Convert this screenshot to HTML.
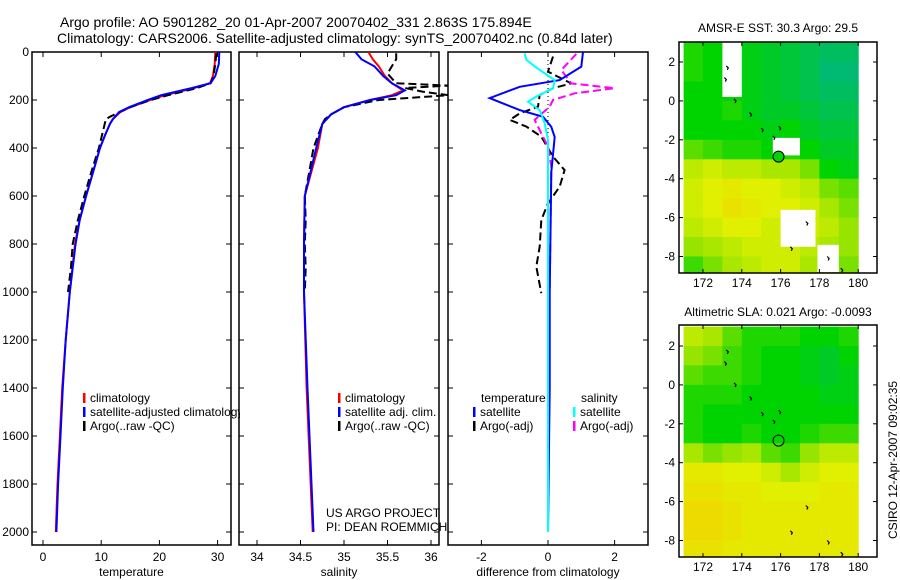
<!DOCTYPE html>
<html><head><meta charset="utf-8"><style>
body{margin:0;background:#fff}
svg{display:block;font-family:"Liberation Sans",sans-serif}
text{fill:#000}
</style></head><body>
<svg id="fig" width="900" height="580" viewBox="0 0 900 580">
<defs>
<clipPath id="c1"><rect x="32" y="52" width="208" height="494"/></clipPath>
<clipPath id="c2"><rect x="239" y="52" width="209" height="494"/></clipPath>
<clipPath id="c3"><rect x="448" y="52" width="200" height="494"/></clipPath>
<clipPath id="cm1"><rect x="679" y="42" width="198" height="231"/></clipPath>
<clipPath id="cm2"><rect x="679" y="325" width="198" height="232"/></clipPath>
</defs>
<text x="60" y="27" font-size="14">Argo profile: AO 5901282_20 01-Apr-2007 20070402_331 2.863S 175.894E</text>
<text x="57" y="43" font-size="14">Climatology: CARS2006. Satellite-adjusted climatology: synTS_20070402.nc (0.84d later)</text>
<text x="778" y="32" font-size="12" text-anchor="middle">AMSR-E SST: 30.3 Argo: 29.5</text>
<text x="778" y="316" font-size="12" text-anchor="middle">Altimetric SLA: 0.021 Argo: -0.0093</text>
<text transform="translate(897,460) rotate(-90)" font-size="12" text-anchor="middle">CSIRO 12-Apr-2007 09:02:35</text>
<g id="g"></g>
</svg>
<script>
// ---------- data ----------
const depthTicks=[0,200,400,600,800,1000,1200,1400,1600,1800,2000];
const tempTicks=[0,10,20,30];
const salTicks=[34,34.5,35,35.5,36];
const diffTicks=[-2,0,2];
const tClimDepth=[0,50,100,130,150,180,200,230,250,280,300,350,400,500,600,700,800,1000,1200,1400,1600,1800,2000];
const tClimVal=[29.6,29.5,29.2,28.7,26,21,18.4,15,13.3,12,11.5,10.6,9.8,8.6,7.4,6.3,5.5,4.6,3.9,3.3,2.9,2.5,2.2];
const tSatVal=[30.3,30.2,29.6,28.8,25.6,20.3,18,14.8,13.1,12,11.5,10.6,9.8,8.6,7.4,6.3,5.6,4.6,3.9,3.4,3.0,2.6,2.3];
const tArgoDepth=[5,50,100,130,150,180,200,230,250,270,280,300,350,400,500,600,700,800,900,1000];
const tArgoVal=[29.8,29.6,29.3,28.8,26.5,21.5,18.5,15,13.2,11.5,10.8,10.6,10.1,9.6,8.3,7.1,6.0,5.1,4.8,4.3];
const sClimDepth=[0,30,60,100,130,160,180,200,230,260,300,400,600,800,1000,1400,2000];
const sClimVal=[35.28,35.33,35.4,35.47,35.55,35.68,35.55,35.3,35.0,34.85,34.75,34.7,34.55,34.54,34.54,34.57,34.64];
const sSatVal=[35.13,35.2,35.35,35.45,35.55,35.7,35.6,35.3,35.0,34.85,34.75,34.68,34.55,34.54,34.54,34.58,34.65];
const sArgoDepth=[5,30,60,90,110,130,140,150,165,180,190,200,230,260,280,300,350,400,500,600,700,800,900,1000];
const sArgoVal=[35.6,35.6,35.55,35.5,35.55,35.6,36.2,35.7,35.9,36.2,35.8,35.4,35.0,34.85,34.78,34.75,34.7,34.65,34.6,34.55,34.56,34.55,34.56,34.55];
const dTSatDepth=[0,61,117,145,192,214,242,270,312,354,500,1000,1400,2000];
const dTSatVal=[1.05,1.0,0.35,-0.85,-1.75,-1.35,-0.85,-0.15,0.1,0.2,0.1,0.05,0.05,0];
const dSSatDepth=[6,33,75,117,151,186,207,242,297,367,1000,2000];
const dSSatVal=[-0.7,-0.65,-0.25,0.2,0.15,-0.35,-0.6,-0.25,-0.1,0,0,0];
const dTArgoDepth=[19,82,131,151,179,228,256,283,311,353,436,492,561,631,700,811,894,1005];
const dTArgoVal=[0.15,0,0.7,0.15,-0.25,-0.3,-0.85,-1.15,-0.65,-0.2,0.15,0.5,0.35,0,-0.2,-0.25,-0.35,-0.2];
const dSArgoDepth=[8,75,131,151,172,200,228,283,339,394,478,1000];
const dSArgoVal=[0.85,0.4,0.7,2.0,0.8,0.15,0.05,-0.4,-0.2,0,0.1,0.05];
const lonTicks=[172,174,176,178,180];
const latTicks=[2,0,-2,-4,-6,-8];
const gridLons=[171.5,172.5,173.5,174.5,175.5,176.5,177.5,178.5,179.5];
const gridLats=[2.5,1.5,0.5,-0.5,-1.5,-2.5,-3.5,-4.5,-5.5,-6.5,-7.5,-8.5];
const sstField=[
[.35,.3,.3,.25,.2,.15,.1,.05,.05],
[.35,.3,.3,.25,.2,.15,.1,.0,.0],
[.3,.3,.3,.25,.2,.15,.1,.05,.05],
[.3,.3,.35,.25,.2,.2,.15,.1,.1],
[.3,.3,.3,.3,.25,.3,.2,.15,.15],
[.45,.4,.35,.35,.3,.35,.3,.2,.2],
[.65,.7,.65,.65,.6,.6,.5,.3,.25],
[.7,.75,.8,.75,.75,.7,.65,.5,.45],
[.7,.75,.85,.8,.75,.75,.7,.6,.5],
[.65,.7,.75,.75,.7,.75,.7,.65,.55],
[.55,.6,.65,.7,.7,.7,.65,.6,.55],
[.4,.5,.6,.65,.7,.7,.6,.55,.5]];
const slaField=[
[.65,.6,.45,.35,.35,.35,.3,.3,.35],
[.55,.5,.4,.35,.3,.3,.25,.2,.3],
[.45,.4,.4,.35,.3,.3,.25,.2,.25],
[.35,.35,.35,.3,.3,.3,.3,.25,.25],
[.35,.3,.3,.3,.3,.3,.3,.3,.3],
[.35,.3,.3,.35,.3,.3,.35,.4,.4],
[.6,.5,.55,.6,.45,.4,.55,.65,.65],
[.8,.8,.75,.75,.7,.6,.7,.75,.75],
[.85,.85,.8,.8,.75,.75,.75,.8,.8],
[.9,.9,.85,.8,.8,.8,.8,.8,.8],
[.9,.9,.85,.8,.8,.8,.8,.8,.8],
[.85,.85,.8,.8,.8,.8,.8,.8,.8]];
const sstGapLon0=[173,175.6,176,177.9,180.1];
const sstGapLon1=[174,177,177.8,179,181];
const sstGapLat0=[3,-1.9,-5.6,-7.4,3];
const sstGapLat1=[0.2,-2.8,-7.5,-8.8,-8.8];
const argoLon=175.894, argoLat=-2.863;

// ---------- helpers ----------
const NS='http://www.w3.org/2000/svg';
const G=document.getElementById('g');
function mk(tag,at,parent){const e=document.createElementNS(NS,tag);for(const k in at)e.setAttribute(k,at[k]);(parent||G).appendChild(e);return e;}
const yD=d=>52+d*0.24;
const xT=v=>43+v*5.82;
const xS=v=>257+(v-34)*87;
const xDf=v=>548+v*33.3;

function panel(x0,x1,name,xTicksArr,xf,xlabels,fmt){
  const r=mk('rect',{x:x0,y:52,width:x1-x0,height:493,fill:'none',stroke:'#000','stroke-width':1.5});
  
  
  depthTicks.forEach(d=>{
    mk('line',{x1:x0,x2:x0+5,y1:yD(d),y2:yD(d),stroke:'#000'});
    mk('line',{x1:x1-5,x2:x1,y1:yD(d),y2:yD(d),stroke:'#000'});
  });
  xTicksArr.forEach(v=>{
    const x=xf(v);
    mk('line',{x1:x,x2:x,y1:52,y2:57,stroke:'#000'});
    mk('line',{x1:x,x2:x,y1:540,y2:545,stroke:'#000'});
    const t=mk('text',{x:x,y:561,'font-size':12,'text-anchor':'middle'});
    t.textContent=fmt(v);
    
    
  });
  const l=mk('text',{x:(x0+x1)/2,y:576,'font-size':12,'text-anchor':'middle'});
  l.textContent=xlabels;
  
  
}
function line(ds,vs,xf,color,dash,clip,name,w){
  const pts=ds.map((d,i)=>xf(vs[i]).toFixed(1)+','+yD(d).toFixed(1)).join(' ');
  const p=mk('polyline',{points:pts,fill:'none',stroke:color,'stroke-width':w||2,'clip-path':'url(#'+clip+')'});
  if(dash)p.setAttribute('stroke-dasharray',dash);
  
  
}
function legend(x,y,color,label,name,clip){
  const b=mk('rect',{x:x,y:y-9,width:2.5,height:10,fill:color});
  
  
  const t=mk('text',{x:x+7,y:y,'font-size':12});
  if(clip)t.setAttribute('clip-path','url(#'+clip+')');
  t.textContent=label;
  
  
}
function txt(x,y,s,name,opts){const t=mk('text',Object.assign({x:x,y:y,'font-size':12},opts||{}));t.textContent=s;return t;}

depthTicks.forEach(d=>{
  const t=mk('text',{x:29,y:yD(d)+4,'font-size':12,'text-anchor':'end'});
  t.textContent=d;
  
  
});

panel(32,231,'temperature-panel',tempTicks,xT,'temperature',v=>v);
line(tClimDepth,tClimVal,xT,'#f00',null,'c1','temp-climatology-line');
line(tArgoDepth,tArgoVal,xT,'#000','8,4','c1','temp-argo-line');
line(tClimDepth,tSatVal,xT,'#00f',null,'c1','temp-satellite-line');
legend(83,402,'#f00','climatology','legend-climatology');
legend(83,416,'#00f','satellite-adjusted climatology','legend-satellite-adjusted','c1');
legend(83,430,'#000','Argo(..raw -QC)','legend-argo');

panel(239,439,'salinity-panel',salTicks,xS,'salinity',v=>v);
line(sClimDepth,sClimVal,xS,'#f00',null,'c2','sal-climatology-line');
line(sArgoDepth,sArgoVal,xS,'#000','8,4','c2','sal-argo-line');
line(sClimDepth,sSatVal,xS,'#00f',null,'c2','sal-satellite-line');
legend(338,402,'#f00','climatology','legend-sal-climatology');
legend(338,416,'#00f','satellite adj. clim.','legend-sal-satellite');
legend(338,430,'#000','Argo(..raw -QC)','legend-sal-argo');
txt(326,517,'US ARGO PROJECT','project-credit');
txt(326,531,'PI: DEAN ROEMMICH','pi-credit',{'clip-path':'url(#c2)'});

panel(448,648,'difference-panel',diffTicks,xDf,'difference from climatology',v=>v);
mk('line',{x1:xDf(0),x2:xDf(0),y1:52,y2:yD(2000),stroke:'#000','stroke-dasharray':'1,3'});
line(dTArgoDepth,dTArgoVal,xDf,'#000','8,4','c3','diff-temp-argo-line');
line(dSArgoDepth,dSArgoVal,xDf,'#f0f','8,4','c3','diff-sal-argo-line');
line(dTSatDepth,dTSatVal,xDf,'#00f',null,'c3','diff-temp-satellite-line');
line(dSSatDepth,dSSatVal,xDf,'#0ff',null,'c3','diff-sal-satellite-line');
txt(481,402,'temperature','legend-temperature-heading');
txt(581,402,'salinity','legend-salinity-heading');
legend(473,416,'#00f','satellite','legend-diff-temp-satellite');
legend(473,430,'#000','Argo(-adj)','legend-diff-temp-argo');
legend(573,416,'#0ff','satellite','legend-diff-sal-satellite');
legend(573,430,'#f0f','Argo(-adj)','legend-diff-sal-argo');

const stops=[[0,[0,185,115]],[0.3,[0,212,0]],[0.55,[150,228,0]],[0.75,[225,240,0]],[1,[245,205,0]]];
function cmap(v){for(let i=1;i<stops.length;i++){if(v<=stops[i][0]){const a=stops[i-1],b=stops[i],t=(v-a[0])/(b[0]-a[0]);return 'rgb('+a[1].map((c,k)=>Math.round(c+(b[1][k]-c)*t)).join(',')+')';}}return 'rgb(245,205,0)';}

function map(top,name,field,clip,gaps){
  const xL=lon=>703+(lon-172)*19.4;
  const yL=lat=>top+20+ (2-lat)*19.45 + (name==='sla-map'?1:0);
  const g=mk('g',{'clip-path':'url(#'+clip+')'});
  
  
  gridLats.forEach((lat,i)=>gridLons.forEach((lon,j)=>{
    const x0=xL(Math.max(lon-0.5,170.9)),x1=xL(Math.min(lon+0.5,180.1));
    const y0=yL(Math.min(lat+0.5,3.2)),y1=yL(lat-0.5);
    const c=mk('rect',{x:x0.toFixed(1),y:y0.toFixed(1),width:(x1-x0+0.5).toFixed(1),height:(y1-y0+0.5).toFixed(1),fill:cmap(field[i][j])},g);
    
    
  }));
  const wr=mk('rect',{x:xL(180.1),y:top,width:30,height:240,fill:'#fff'},g);
  
  
  if(gaps){gaps[0].forEach((l0,k)=>{const r=mk('rect',{x:xL(l0),y:yL(gaps[2][k]),width:xL(gaps[1][k])-xL(l0),height:yL(gaps[3][k])-yL(gaps[2][k]),fill:'#fff'},g);
    
    });}
  [[173.2,1.8],[173.1,1.2],[173.6,0.1],[174.4,-0.6],[175,-1.4],[175.9,-1.3],[175.6,-1.8],[176.5,-7.5],[177.3,-6.2],[178.4,-8],[179.1,-8.6]].forEach(p=>{
    mk('path',{d:'M'+xL(p[0])+' '+yL(p[1])+' l2 2 l-1 2',stroke:'#000','stroke-width':1.2,fill:'none'},g);
  });
  const circ=mk('circle',{cx:xL(argoLon),cy:yL(argoLat),r:5.5,fill:gaps?cmap(0.3):'none',stroke:'#000','stroke-width':1});
  
  
  const fr=mk('rect',{x:679,y:top,width:198,height:(name==='sla-map'?232:231),fill:'none',stroke:'#000','stroke-width':1.5});
  
  
  const bot=top+(name==='sla-map'?232:231);
  lonTicks.forEach(l=>{
    mk('line',{x1:xL(l),x2:xL(l),y1:top,y2:top+4,stroke:'#000'});
    mk('line',{x1:xL(l),x2:xL(l),y1:bot-4,y2:bot,stroke:'#000'});
    const t=mk('text',{x:xL(l),y:bot+14,'font-size':12,'text-anchor':'middle'});
    t.textContent=l;
    
    
  });
  latTicks.forEach(l=>{
    mk('line',{x1:679,x2:683,y1:yL(l),y2:yL(l),stroke:'#000'});
    mk('line',{x1:873,x2:877,y1:yL(l),y2:yL(l),stroke:'#000'});
    const t=mk('text',{x:675,y:yL(l)+4,'font-size':12,'text-anchor':'end'});
    t.textContent=l;
    
    
  });
}
map(42,'sst-map',sstField,'cm1',[sstGapLon0,sstGapLon1,sstGapLat0,sstGapLat1]);
map(325,'sla-map',slaField,'cm2',null);
</script>
</body></html>
